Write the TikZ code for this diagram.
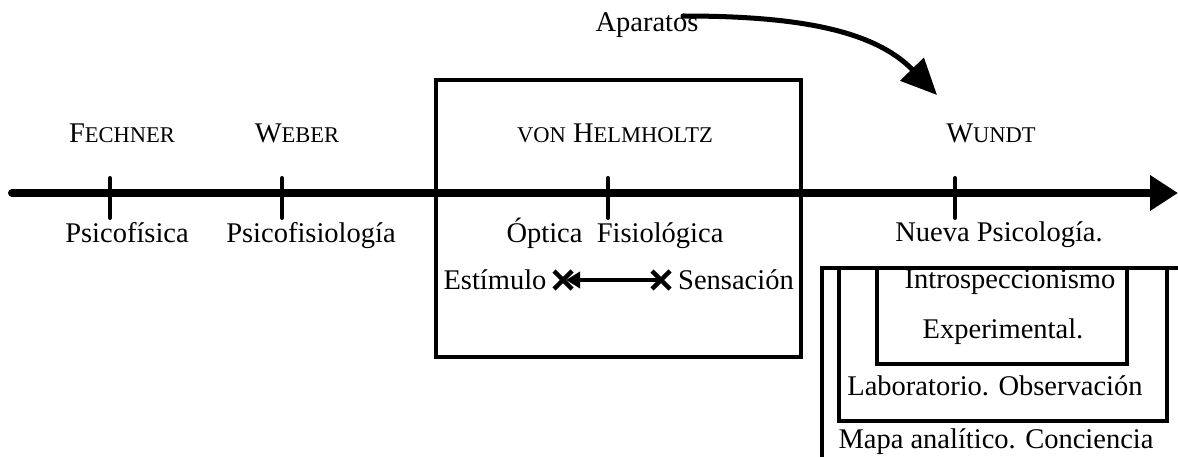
\documentclass[tikz,border=0pt]{standalone}
\usepackage{fontspec}
\setmainfont{Liberation Serif}
\usetikzlibrary{arrows.meta}
\newcommand\mysc[1]{{\fontsize{22.5}{27}\selectfont #1}}
\begin{document}
\begin{tikzpicture}[x=1pt,y=-1pt,
  txt/.style={anchor=base,inner sep=0pt,font=\fontsize{28.5}{34}\selectfont},
  tick/.style={line width=4pt,line cap=round},
  frame/.style={line width=3.5pt,line cap=rect}]
\useasboundingbox (0,0) rectangle (1178,457);

% timeline
\coordinate (t0) at (12,193);
\coordinate (t1) at (1178,193);
\draw[line width=8pt,line cap=round,-{Triangle[length=28pt,width=34pt]}] (t0) -- (t1);

% ticks
\foreach \n/\x in {fe/110,we/282,he/608,wu/955}{
  \coordinate (\n a) at (\x,178);
  \coordinate (\n b) at (\x,218);
  \draw[tick] (\n a) -- (\n b);
}

% names
\node[txt] (fech) at (122,143) {F\mysc{ECHNER}};
\node[txt] (webr) at (297,143) {W\mysc{EBER}};
\node[txt] (helm) at (615,143) {\mysc{VON} H\mysc{ELMHOLTZ}};
\node[txt] (wund) at (991,143) {W\mysc{UNDT}};

% below labels
\node[txt] (psf) at (127,243) {Psicofísica};
\node[txt] (psfs) at (311,243) {Psicofisiología};
\node[txt] (opt) at (615,243) {Óptica\ \ Fisiológica};
\node[txt] (nps) at (999,242) {Nueva Psicología.};

% Helmholtz box
\node[draw,line width=3.5pt,inner sep=0pt,minimum width=365pt,minimum height=277pt] (hbox) at (618.5,218.5) {};

% Estimulo - Sensacion
\node[txt] (est) at (495,289) {Estímulo};
\node[txt] (sen) at (736,289) {Sensación};
\coordinate (xl) at (563,280);
\coordinate (xr) at (661,280);
\foreach \c in {xl,xr}{
  \draw[line width=4.5pt] ([shift={(-9,-9)}]\c) -- ([shift={(9,9)}]\c);
  \draw[line width=4.5pt] ([shift={(-9,9)}]\c) -- ([shift={(9,-9)}]\c);
}
\draw[line width=4.5pt,line cap=round,-{Triangle[length=14pt,width=16pt]}] (xr) -- ([xshift=3pt]xl);

% Aparatos
\node[txt] (apa) at (647,32) {Aparatos};
\coordinate (as) at (683,16);
\coordinate (ae) at (937,95);
\draw[line width=5pt,line cap=round,-{Triangle[length=36pt,width=32pt]}]
  (as) .. controls (790,16) and (872,28) .. (ae);

% nested frames (Wundt)
\coordinate (o1) at (1180,268);
\coordinate (o2) at (822,268);
\coordinate (o3) at (822,460);
\draw[frame] (o1) -- (o2) -- (o3);
\draw[frame] (839,268) -- (839,421) -- (1167,421) -- (1167,268);
\draw[frame] (877,268) -- (877,364) -- (1127,364) -- (1127,268);

\node[txt] (intro) at (1010,288) {Introspeccionismo};
\node[txt] (expe) at (1003,338) {Experimental.};
\node[txt] (labo) at (995,395) {Laboratorio. Observación};
\node[txt] (mapa) at (996,448) {Mapa analítico. Conciencia};
\end{tikzpicture}
\end{document}
